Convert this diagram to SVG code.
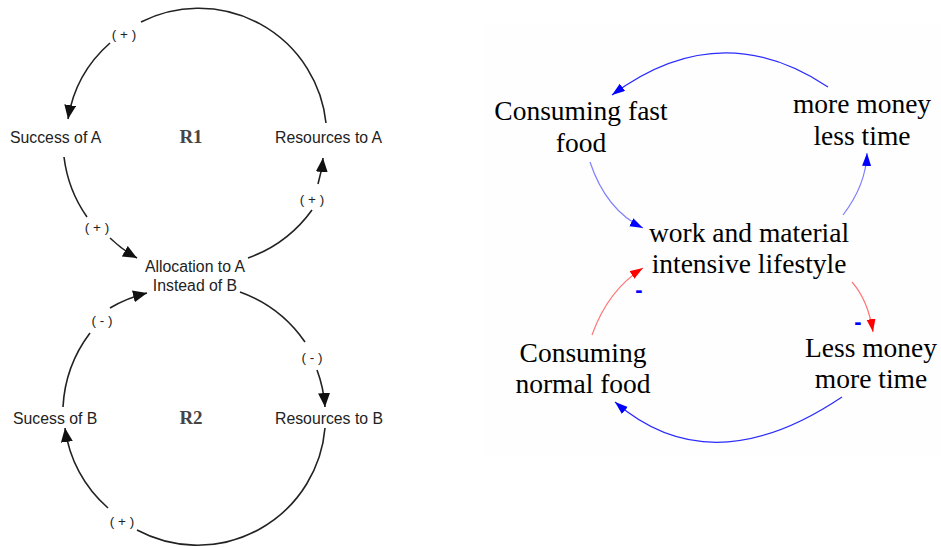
<svg xmlns="http://www.w3.org/2000/svg" width="941" height="547" viewBox="0 0 941 547">
  <style>
    .lbl { font-family: "Liberation Sans", Arial, sans-serif; font-size: 15.8px; fill: #222; }
    .sign { font-family: "Liberation Sans", Arial, sans-serif; font-size: 13.5px; fill: #222; text-anchor: middle; }
    .loop { font-family: "Liberation Serif", "Times New Roman", serif; font-size: 19px; font-weight: bold; fill: #444; text-anchor: middle; }
    .bw { fill: none; stroke: #222; stroke-width: 1.6; }
    .node { font-family: "Liberation Serif", "Times New Roman", serif; font-size: 27.5px; fill: #000; text-anchor: middle; }
    .minus { font-family: "Liberation Sans", Arial, sans-serif; font-size: 22px; font-weight: bold; fill: #0000ff; text-anchor: middle; }
  </style>
  <defs>
    <marker id="blk" markerUnits="userSpaceOnUse" markerWidth="16" markerHeight="14" refX="14" refY="6" orient="auto">
      <path d="M0,0 L14,6 L0,12 Z" fill="#111"/>
    </marker>
    <marker id="blu" markerUnits="userSpaceOnUse" markerWidth="14" markerHeight="10" refX="13" refY="4.5" orient="auto">
      <path d="M0,0 L13,4.5 L0,9 Z" fill="#0000ff"/>
    </marker>
    <marker id="red" markerUnits="userSpaceOnUse" markerWidth="14" markerHeight="10" refX="13" refY="4.5" orient="auto">
      <path d="M0,0 L13,4.5 L0,9 Z" fill="#ff0000"/>
    </marker>
  </defs>

  <rect width="941" height="547" fill="#fff"/>
  <rect x="485" y="25" width="456" height="432" fill="#fefefe"/>

  <!-- left: two reinforcing loops -->
  <g id="connectors-left">
    <path class="bw" d="M141,22 A128,128 0 0 1 326,123"/>
    <path class="bw" d="M110,43 A128,128 0 0 0 68,119" marker-end="url(#blk)"/>
    <path class="bw" d="M64,157 A132,132 0 0 0 87,217"/>
    <path class="bw" d="M110,238 A132,132 0 0 0 137,258" marker-end="url(#blk)"/>
    <path class="bw" d="M312,210 A134,134 0 0 1 248,258"/>
    <path class="bw" d="M318,184 A130,130 0 0 0 323,158" marker-end="url(#blk)"/>

    <path class="bw" d="M240,292 A134,134 0 0 1 305,342"/>
    <path class="bw" d="M317,370 A130,130 0 0 1 325,407" marker-end="url(#blk)"/>
    <path class="bw" d="M325,428 A128,128 0 0 1 137,530"/>
    <path class="bw" d="M108,508 A128,128 0 0 1 65,428" marker-end="url(#blk)"/>
    <path class="bw" d="M63,407 A134,134 0 0 1 90,333"/>
    <path class="bw" d="M110,308 A136,136 0 0 1 147,293" marker-end="url(#blk)"/>
  </g>
  <g id="signs-left">
    <text class="sign" x="124" y="39">( + )</text>
    <text class="sign" x="97" y="232">( + )</text>
    <text class="sign" x="312" y="204">( + )</text>
    <text class="sign" x="102" y="325">( - )</text>
    <text class="sign" x="312" y="362">( - )</text>
    <text class="sign" x="122" y="526">( + )</text>
  </g>
  <g id="success-a"><text class="lbl" x="10" y="143">Success of A</text></g>
  <g id="resources-a"><text class="lbl" x="275" y="143">Resources to A</text></g>
  <g id="allocation"><text class="lbl" x="195" y="272" text-anchor="middle">Allocation to A</text><text class="lbl" x="195" y="291" text-anchor="middle">Instead of B</text></g>
  <g id="sucess-b"><text class="lbl" x="13" y="424">Sucess of B</text></g>
  <g id="resources-b"><text class="lbl" x="275" y="424">Resources to B</text></g>
  <g id="r1"><text class="loop" x="191" y="143">R1</text></g>
  <g id="r2"><text class="loop" x="191" y="424">R2</text></g>

  <!-- right: food and lifestyle loop -->
  <g id="connectors-right">
    <path d="M828,87 Q720,15 612,95" fill="none" stroke="#2a2aff" stroke-width="1.2" marker-end="url(#blu)"/>
    <path d="M590,162 Q606,210 643,228" fill="none" stroke="#8080ff" stroke-width="1.2" marker-end="url(#blu)"/>
    <path d="M843,215 Q866,185 867,153" fill="none" stroke="#8080ff" stroke-width="1.2" marker-end="url(#blu)"/>
    <path d="M592,335 Q608,290 643,268" fill="none" stroke="#ff7878" stroke-width="1.2" marker-end="url(#red)"/>
    <path d="M852,282 Q868,300 873,332" fill="none" stroke="#ff7878" stroke-width="1.2" marker-end="url(#red)"/>
    <path d="M842,397 Q711,485 615,402" fill="none" stroke="#2a2aff" stroke-width="1.2" marker-end="url(#blu)"/>
    <text class="minus" x="639" y="297">-</text>
    <text class="minus" x="858" y="329">-</text>
  </g>
  <g id="fast-food"><text class="node" x="581" y="120">Consuming fast</text><text class="node" x="581" y="152">food</text></g>
  <g id="more-money"><text class="node" x="862" y="113">more money</text><text class="node" x="862" y="145">less time</text></g>
  <g id="lifestyle"><text class="node" x="749" y="242">work and material</text><text class="node" x="749" y="273">intensive lifestyle</text></g>
  <g id="normal-food"><text class="node" x="583" y="362">Consuming</text><text class="node" x="583" y="393">normal food</text></g>
  <g id="less-money"><text class="node" x="871" y="357">Less money</text><text class="node" x="871" y="388">more time</text></g>
</svg>
